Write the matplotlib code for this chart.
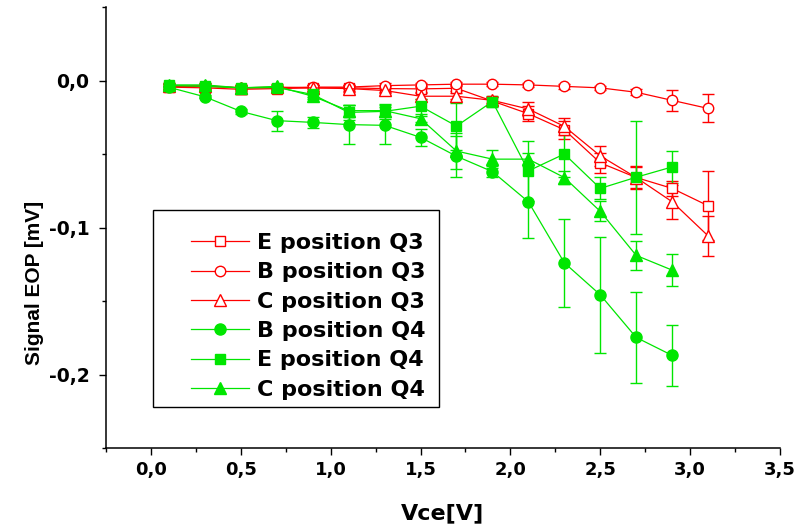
import matplotlib
matplotlib.use('Agg')
import matplotlib.pyplot as plt
from matplotlib.ticker import MultipleLocator, FuncFormatter
from matplotlib.patches import Rectangle

plt.rcParams['font.family'] = 'DejaVu Sans'
plt.rcParams['font.weight'] = 'bold'

# Vce values (V)
vce_q3 = [0.1, 0.3, 0.5, 0.7, 0.9, 1.1, 1.3, 1.5, 1.7, 1.9, 2.1, 2.3, 2.5, 2.7, 2.9, 3.1]
vce_q4 = vce_q3[:15]

# Q3 series (mV)
e_q3 = [-0.0045, -0.005, -0.006, -0.0055, -0.005, -0.005, -0.0055, -0.0057, -0.0053,
        -0.014, -0.0226, -0.0335, -0.056, -0.066, -0.0734, -0.0852]
e_q3_err = [0.002, 0.002, 0.003, 0.002, 0.002, 0.002, 0.002, 0.002, 0.002,
            0.003, 0.005, 0.006, 0.007, 0.0075, 0.005, 0.0235]
b_q3 = [-0.004, -0.004, -0.005, -0.005, -0.0045, -0.0045, -0.0035, -0.003, -0.0025,
        -0.0025, -0.003, -0.004, -0.005, -0.008, -0.0135, -0.019]
b_q3_err = [0.0015, 0.0015, 0.0015, 0.0015, 0.0015, 0.0015, 0.0015, 0.0015, 0.0015,
            0.0015, 0.0015, 0.0015, 0.0015, 0.002, 0.007, 0.0095]
c_q3 = [-0.004, -0.0035, -0.005, -0.0045, -0.005, -0.0055, -0.0068, -0.0107, -0.0107,
        -0.0135, -0.0194, -0.0312, -0.0513, -0.066, -0.0825, -0.1057]
c_q3_err = [0.002, 0.002, 0.002, 0.002, 0.002, 0.002, 0.002, 0.002, 0.002,
            0.002, 0.005, 0.006, 0.007, 0.007, 0.0115, 0.0137]

# Q4 series (mV)
b_q4 = [-0.0046, -0.0111, -0.021, -0.0273, -0.0285, -0.030, -0.0305, -0.0387, -0.0515,
        -0.062, -0.0825, -0.124, -0.1458, -0.1748, -0.187]
b_q4_err = [0.001, 0.001, 0.0015, 0.0068, 0.0036, 0.0135, 0.0125, 0.0057, 0.014,
            0.0035, 0.0245, 0.030, 0.0395, 0.031, 0.0205]
e_q4 = [-0.0034, -0.004, -0.005, -0.0048, -0.0095, -0.0217, -0.021, -0.0175, -0.031,
        -0.0143, -0.0615, -0.050, -0.0734, -0.0658, -0.0588]
e_q4_err = [0.001, 0.001, 0.001, 0.001, 0.002, 0.005, 0.005, 0.005, 0.016,
            0.004, 0.0205, 0.0157, 0.0075, 0.0385, 0.0107]
c_q4 = [-0.003, -0.003, -0.005, -0.004, -0.0107, -0.0205, -0.0205, -0.026, -0.048,
        -0.0535, -0.0535, -0.066, -0.089, -0.119, -0.129]
c_q4_err = [0.001, 0.001, 0.001, 0.001, 0.002, 0.004, 0.004, 0.002, 0.012,
            0.006, 0.004, 0.0045, 0.0068, 0.010, 0.011]

red = '#ff0000'
green = '#00e600'

series = [
    ('E position Q3', vce_q3, e_q3, e_q3_err, red, 's', 'white', 7),
    ('B position Q3', vce_q3, b_q3, b_q3_err, red, 'o', 'white', 7.5),
    ('C position Q3', vce_q3, c_q3, c_q3_err, red, '^', 'white', 8),
    ('B position Q4', vce_q4, b_q4, b_q4_err, green, 'o', green, 8),
    ('E position Q4', vce_q4, e_q4, e_q4_err, green, 's', green, 7),
    ('C position Q4', vce_q4, c_q4, c_q4_err, green, '^', green, 8),
]

fig = plt.figure(figsize=(7.98, 5.26), dpi=100)
ax = fig.add_axes([106 / 798, 1 - 448 / 526, 674 / 798, 441 / 526])

handles = []
for label, x, y, err, col, mk, fill, ms in series:
    cont = ax.errorbar(x, y, yerr=err, color=col, marker=mk, mfc=fill, mec=col,
                       ms=ms, mew=1, lw=0.9, elinewidth=1, capsize=4.5, capthick=1,
                       ecolor=col, label=label)
    handles.append(cont[0])

ax.set_xlim(-0.25, 3.5)
ax.set_ylim(-0.25, 0.05)
ax.spines['top'].set_visible(False)
ax.spines['right'].set_visible(False)
for s in ('left', 'bottom'):
    ax.spines[s].set_linewidth(1.1)

ax.xaxis.set_major_locator(MultipleLocator(0.5))
ax.xaxis.set_minor_locator(MultipleLocator(0.25))
ax.yaxis.set_major_locator(MultipleLocator(0.1))
ax.yaxis.set_minor_locator(MultipleLocator(0.05))
comma = FuncFormatter(lambda v, p: ('%.1f' % v).replace('.', ',').replace('-0,0', '0,0'))
ax.xaxis.set_major_formatter(comma)
ax.yaxis.set_major_formatter(comma)
ax.tick_params(which='major', direction='out', length=5, width=1)
ax.tick_params(which='minor', direction='out', length=3, width=1)
ax.tick_params(axis='x', labelsize=13, pad=4)
ax.tick_params(axis='y', labelsize=13.5, pad=7)

ax.set_xlabel('Vce[V]', fontsize=16, fontweight='bold')
ax.xaxis.set_label_coords(0.5, -0.125)
ax.set_ylabel('Signal EOP [mV]', fontsize=15, fontweight='bold',
              family=['Liberation Sans', 'DejaVu Sans'])
ax.yaxis.set_label_coords(-0.092, 0.374)

fig.patches.append(Rectangle((152.7 / 798, 1 - 406.7 / 526), 286.3 / 798, 196.7 / 526,
                             transform=fig.transFigure, fill=False, ec='black', lw=1))
fig.legend(handles, [s[0] for s in series], loc='upper left',
           bbox_to_anchor=(190.7 / 798, 1 - 233 / 526), frameon=False,
           borderpad=0, borderaxespad=0, handlelength=2.64, handletextpad=0.33,
           labelspacing=0.42, prop={'weight': 'bold', 'size': 16})

fig.savefig('out.png', dpi=100)
